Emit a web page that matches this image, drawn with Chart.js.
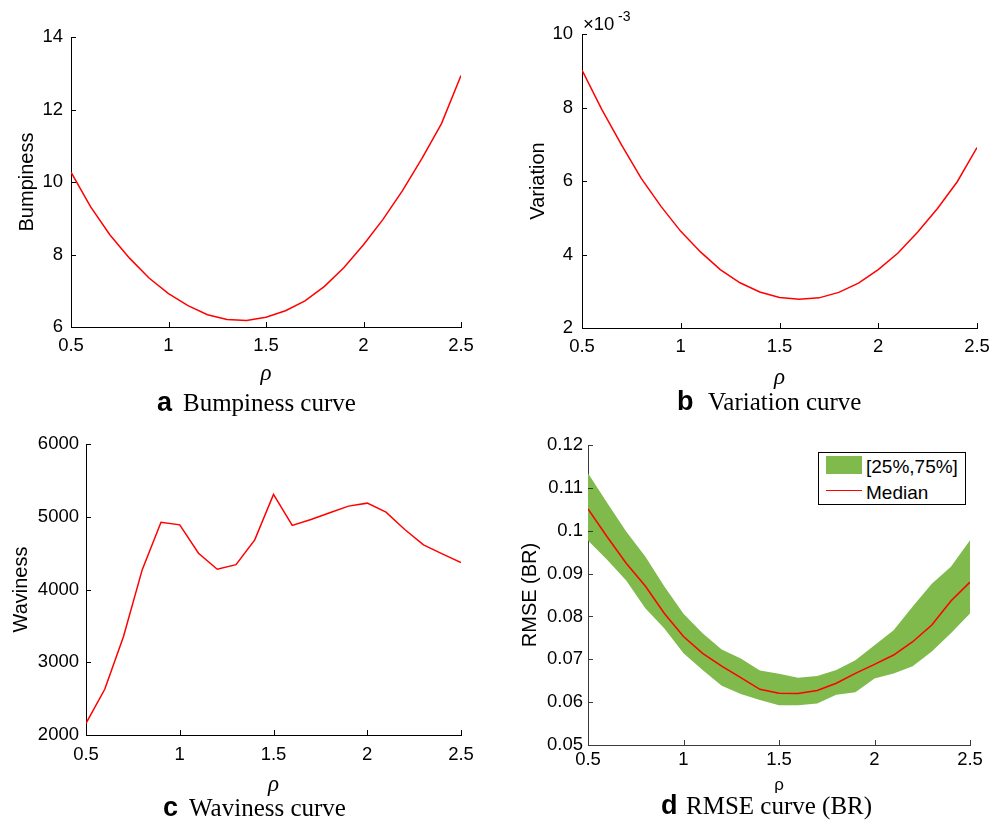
<!DOCTYPE html>
<html>
<head>
<meta charset="utf-8">
<title>Curves against rho</title>
<script src="https://cdn.jsdelivr.net/npm/chart.js@4.4.1/dist/chart.umd.min.js"></script>
<style>
  html, body { margin: 0; padding: 0; background: #fff; }
  #fig { position: relative; width: 1002px; height: 820px; overflow: hidden; }
  #fig canvas { position: absolute; }
  .txt { position: absolute; line-height: 1; white-space: nowrap; color: #000; }
  .tag { font: bold 27px "Liberation Sans", Arial, sans-serif; }
  .cap { font: 25px "Liberation Serif", "Times New Roman", serif; }
  .sans { font-family: "Liberation Sans", Arial, sans-serif; }
  #legend { position: absolute; left: 818px; top: 452px; width: 148px; height: 53px;
            box-sizing: border-box; border: 1px solid #000; background: #fff; }
  #legend .patch { position: absolute; left: 7px; top: 3px; width: 36px; height: 18px; background: #80b94c; }
  #legend .line { position: absolute; left: 7px; top: 36.5px; width: 36px; height: 1.5px; background: #ff0000; }
</style>
</head>
<body>
<div id="fig">
  <canvas id="chartA" width="490" height="400" style="left:0;top:0"></canvas>
  <canvas id="chartB" width="502" height="400" style="left:500px;top:0"></canvas>
  <canvas id="chartC" width="490" height="400" style="left:0;top:410px"></canvas>
  <canvas id="chartD" width="502" height="400" style="left:500px;top:410px"></canvas>

  <span class="txt sans" style="left:583px;top:14.5px;font-size:18.5px">×10</span>
  <span class="txt sans" style="left:618px;top:8.9px;font-size:14px">-3</span>

  <div id="legend">
    <div class="patch"></div>
    <div class="line"></div>
    <span class="txt sans" style="left:47px;top:4.2px;font-size:19px">[25%,75%]</span>
    <span class="txt sans" style="left:47px;top:29.9px;font-size:19px">Median</span>
  </div>

  <span class="txt tag" style="left:157px;top:387.1px">a</span>
  <span class="txt cap" style="left:183px;top:389.1px">Bumpiness curve</span>
  <span class="txt tag" style="left:677px;top:386.4px">b</span>
  <span class="txt cap" style="left:708px;top:388.4px">Variation curve</span>
  <span class="txt tag" style="left:163px;top:792.1px">c</span>
  <span class="txt cap" style="left:189px;top:794.1px">Waviness curve</span>
  <span class="txt tag" style="left:661px;top:790.4px">d</span>
  <span class="txt cap" style="left:686px;top:792.4px">RMSE curve (BR)</span>
</div>

<script>
// values, one per rho step
const rho = [0.5, 0.6, 0.7, 0.8, 0.9, 1.0, 1.1, 1.2, 1.3, 1.4, 1.5, 1.6, 1.7, 1.8, 1.9, 2.0, 2.1, 2.2, 2.3, 2.4, 2.5];
const bumpiness = [10.27, 9.32, 8.54, 7.90, 7.35, 6.92, 6.59, 6.34, 6.21, 6.18, 6.27, 6.45, 6.72, 7.12, 7.64, 8.27, 8.97, 9.76, 10.65, 11.61, 12.94];
const variation = [9.02e-3, 7.95e-3, 6.98e-3, 6.07e-3, 5.31e-3, 4.63e-3, 4.07e-3, 3.59e-3, 3.23e-3, 2.98e-3, 2.83e-3,
                   2.78e-3, 2.82e-3, 2.97e-3, 3.22e-3, 3.59e-3, 4.04e-3, 4.61e-3, 5.25e-3, 5.98e-3, 6.91e-3];
const waviness = [2161, 2629, 3355, 4273, 4925, 4889, 4498, 4278, 4342, 4682, 5307, 4880, 4962, 5054, 5146, 5187, 5063, 4824, 4613, 4489, 4370];
const rmseMedian = [0.1051, 0.0986, 0.0924, 0.0871, 0.0807, 0.0753, 0.0714, 0.0684, 0.0657, 0.0630, 0.0621,
                    0.0620, 0.0627, 0.0644, 0.0667, 0.0688, 0.0710, 0.0741, 0.0780, 0.0836, 0.0880];
const rmseQ25 = [0.0977, 0.0932, 0.0884, 0.0819, 0.0772, 0.0714, 0.0675, 0.0638, 0.0619, 0.0605, 0.0593,
                 0.0593, 0.0597, 0.0617, 0.0623, 0.0655, 0.0667, 0.0684, 0.0718, 0.0761, 0.0807];
const rmseQ75 = [0.1134, 0.1065, 0.0998, 0.0940, 0.0870, 0.0806, 0.0761, 0.0723, 0.0702, 0.0674, 0.0666,
                 0.0657, 0.0661, 0.0675, 0.0698, 0.0733, 0.0768, 0.0823, 0.0876, 0.0916, 0.0978];

// tick values
const rhoTicks = [0.5, 1, 1.5, 2, 2.5];
const bumpTicks = [6, 8, 10, 12, 14];
const varTicks = [0.002, 0.004, 0.006, 0.008, 0.010];
const wavTicks = [2000, 3000, 4000, 5000, 6000];
const rmseTicks = [0.05, 0.06, 0.07, 0.08, 0.09, 0.10, 0.11, 0.12];

const RED = '#ff0000';
const GREEN = '#80b94c';
const SANS = '"Liberation Sans", Arial, Helvetica, sans-serif';
const SERIF = '"Liberation Serif", "Times New Roman", serif';

const pts = ys => rho.map((x, i) => ({ x, y: ys[i] }));
const plain = v => String(+v.toFixed(4));

// matlab style: short tick marks pointing into the plot
const inwardTicks = {
  id: 'inwardTicks',
  afterDraw(chart, args, opts) {
    const { ctx, chartArea: a, scales: { x, y } } = chart;
    const len = 5;
    ctx.save();
    ctx.strokeStyle = opts.color || '#000';
    ctx.lineWidth = 1;
    ctx.beginPath();
    x.ticks.forEach(t => {
      const px = Math.round(x.getPixelForValue(t.value)) + 0.5;
      ctx.moveTo(px, a.bottom); ctx.lineTo(px, a.bottom - len);
    });
    y.ticks.forEach(t => {
      const py = Math.round(y.getPixelForValue(t.value)) + 0.5;
      ctx.moveTo(a.left, py); ctx.lineTo(a.left + len, py);
    });
    ctx.stroke();
    ctx.restore();
  }
};

function makePanel(id, o) {
  const el = document.getElementById(id);
  const w = el.width, h = el.height;
  const ar = o.area;
  const axisColor = o.axisColor || '#000';
  const noGrid = { display: false, drawTicks: false, tickLength: 0 };
  return new Chart(el, {
    type: 'line',
    data: { datasets: o.datasets },
    options: {
      responsive: false,
      animation: false,
      events: [],
      layout: { padding: { left: 0, right: w - ar.r, top: ar.t, bottom: 0 } },
      elements: { point: { radius: 0 }, line: { tension: 0 } },
      plugins: { legend: { display: false }, tooltip: { enabled: false }, inwardTicks: { color: axisColor } },
      scales: {
        x: {
          type: 'linear', min: 0.5, max: 2.5,
          afterBuildTicks: s => { s.ticks = rhoTicks.map(v => ({ value: v })); },
          afterFit: s => { s.height = h - ar.b; },
          grid: noGrid,
          border: { color: axisColor, width: 1 },
          ticks: { color: '#000', padding: o.xTickPad, maxRotation: 0, autoSkip: false,
                   font: { family: SANS, size: 18.5 }, callback: plain },
          title: { display: true, text: 'ρ', color: '#000', font: o.xTitleFont,
                   padding: { top: 0, bottom: o.xTitlePad } }
        },
        y: {
          type: 'linear', min: o.yTicks[0], max: o.yTicks[o.yTicks.length - 1],
          afterBuildTicks: s => { s.ticks = o.yTicks.map(v => ({ value: v })); },
          afterFit: s => { s.width = ar.l; },
          grid: noGrid,
          border: { color: axisColor, width: 1 },
          ticks: { color: '#000', padding: o.yTickPad, autoSkip: false,
                   font: { family: SANS, size: 18.5 }, callback: o.yFmt || plain },
          title: { display: true, text: o.yTitle, color: '#000', font: { family: SANS, size: 20 },
                   padding: { top: o.yTitlePad, bottom: 0 } }
        }
      }
    },
    plugins: [inwardTicks]
  });
}

const redLine = ys => ({ data: pts(ys), borderColor: RED, borderWidth: 1.5, fill: false });
const rhoItalic = { family: SERIF, size: 23, style: 'italic' };

makePanel('chartA', {
  area: { l: 71, r: 461, t: 37, b: 327 },
  datasets: [redLine(bumpiness)],
  yTicks: bumpTicks, yTitle: 'Bumpiness',
  xTickPad: 8.2, yTickPad: 8, xTitleFont: rhoItalic, xTitlePad: 12.2, yTitlePad: 15.5
});

makePanel('chartB', {
  area: { l: 82, r: 477, t: 34, b: 328 },
  datasets: [redLine(variation)],
  yTicks: varTicks, yTitle: 'Variation', yFmt: v => String(Math.round(v * 1000)),
  xTickPad: 8.2, yTickPad: 9, xTitleFont: rhoItalic, xTitlePad: 8.2, yTitlePad: 26
});

makePanel('chartC', {
  area: { l: 86, r: 461, t: 34, b: 325 },
  datasets: [redLine(waviness)],
  yTicks: wavTicks, yTitle: 'Waviness',
  xTickPad: 8.4, yTickPad: 7, xTitleFont: rhoItalic, xTitlePad: 11.7, yTitlePad: 9.8
});

makePanel('chartD', {
  area: { l: 88, r: 470, t: 35, b: 335 },
  datasets: [
    redLine(rmseMedian),
    { data: pts(rmseQ25), borderWidth: 0, borderColor: 'rgba(0,0,0,0)', fill: false },
    { data: pts(rmseQ75), borderWidth: 0, borderColor: 'rgba(0,0,0,0)', backgroundColor: GREEN, fill: '-1' }
  ],
  yTicks: rmseTicks, yTitle: 'RMSE (BR)', axisColor: '#3a3a3a',
  xTickPad: 3.9, yTickPad: 5, xTitleFont: { family: SANS, size: 17 }, xTitlePad: 14.4, yTitlePad: 18.3
});
</script>
</body>
</html>
